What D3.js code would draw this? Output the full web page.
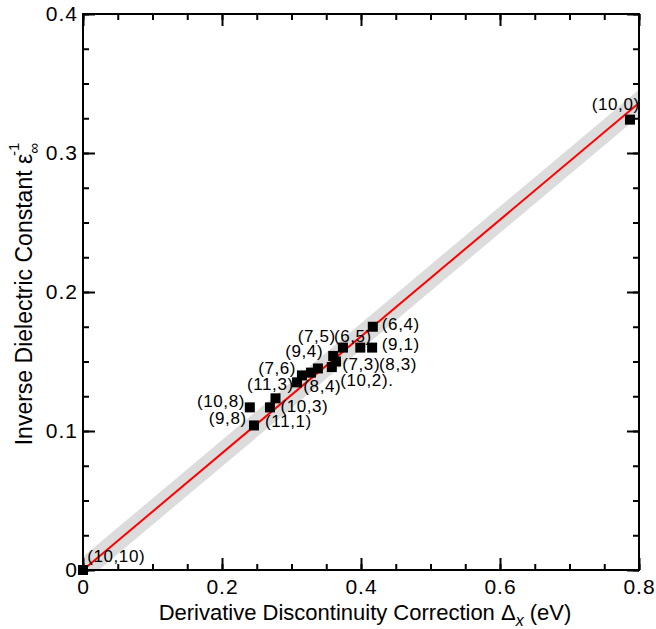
<!DOCTYPE html>
<html>
  <head>
    <meta charset="utf-8">
    <script src="https://d3js.org/d3.v7.min.js"></script>
    <style>
    body {
      margin: 0;
      background-color: #fff;
    }
    text {
      font-family: "Liberation Sans", Arial, sans-serif;
      fill: #000;
    }
    .tick text {
      font-size: 21px;
      letter-spacing: 1px;
    }
    .ptlabel {
      font-size: 17px;
      letter-spacing: 0.6px;
    }
    .xlabel {
      font-size: 22px;
    }
    .ylabel {
      font-size: 23px;
    }
    </style>
    <title>Inverse dielectric constant vs derivative discontinuity</title>
  </head>
  <body>
    <div class="chart"></div>
    <script>

      // nanotube chiralities and values
      var chirality = ["(10,0)", "(10,10)", "(6,4)", "(9,1)", "(8,3)", "(6,5)", "(7,5)", "(7,3)", "(10,2).",
                       "(9,4)", "(8,4)", "(7,6)", "(11,3)", "(10,3)", "(11,1)", "(10,8)", "(9,8)"];
      var deltaX = [0.787, 0.0, 0.417, 0.416, 0.399, 0.374, 0.360, 0.364, 0.358,
                    0.338, 0.328, 0.315, 0.308, 0.277, 0.269, 0.240, 0.246];
      var invEps = [0.324, 0.0, 0.175, 0.160, 0.160, 0.160, 0.154, 0.150, 0.146,
                    0.145, 0.142, 0.140, 0.135, 0.1235, 0.117, 0.117, 0.104];

      // where each chirality label sits (data units, left edge / baseline)
      var labelX = [0.732, 0.006, 0.430, 0.430, 0.426, 0.361, 0.309, 0.373, 0.370,
                    0.291, 0.317, 0.252, 0.236, 0.284, 0.262, 0.164, 0.181];
      var labelY = [0.331, 0.006, 0.173, 0.158, 0.144, 0.164, 0.164, 0.144, 0.1325,
                    0.153, 0.128, 0.141, 0.1295, 0.114, 0.103, 0.117, 0.105];

      // linear fit and its uncertainty band
      var fitSlope = 0.42;
      var bandHalf = 0.0095;

      var xTicks = [0, 0.2, 0.4, 0.6, 0.8];
      var xTickLabels = ["0", "0.2", "0.4", "0.6", "0.8"];
      var yTicks = [0, 0.1, 0.2, 0.3, 0.4];
      var yTickLabels = ["0", "0.1", "0.2", "0.3", "0.4"];
      var xMinor = d3.range(0, 0.8001, 0.05);
      var yMinor = d3.range(0, 0.4001, 0.025);

      var margin = {top: 14, right: 17, bottom: 59, left: 83};
      var fullW = 656, fullH = 629;
      var width = fullW - margin.left - margin.right;
      var height = fullH - margin.top - margin.bottom;

      var svg = d3.select('.chart').append('svg')
          .attr('width', fullW)
          .attr('height', fullH)
        .append('g')
          .attr('transform', 'translate(' + margin.left + ',' + margin.top + ')');

      var x = d3.scaleLinear().domain([0, 0.8]).range([0, width]);
      var y = d3.scaleLinear().domain([0, 0.4]).range([height, 0]);

      svg.append('clipPath').attr('id', 'plotclip')
        .append('rect').attr('width', width).attr('height', height);

      // grey band + red fit line
      var xs = x.domain();
      var band = d3.area()
          .x(function(d) { return x(d); })
          .y0(function(d) { return y(fitSlope * d - bandHalf); })
          .y1(function(d) { return y(fitSlope * d + bandHalf); });

      svg.append('path')
          .datum(xs)
          .attr('clip-path', 'url(#plotclip)')
          .attr('fill', '#dcdcdc')
          .attr('d', band);

      svg.append('path')
          .datum(xs)
          .attr('clip-path', 'url(#plotclip)')
          .attr('fill', 'none')
          .attr('stroke', '#ff0000')
          .attr('stroke-width', 2)
          .attr('d', d3.line().x(function(d) { return x(d); }).y(function(d) { return y(fitSlope * d); }));

      // axes: ticks point inward, mirrored on top/right
      function styleAxis(g) {
        g.select('.domain').remove();
        g.selectAll('.tick line').attr('stroke', '#000').attr('stroke-width', 2);
      }

      svg.append('g').attr('transform', 'translate(0,' + height + ')')
          .call(d3.axisBottom(x).tickValues(xMinor).tickSize(-6).tickFormat(''))
          .call(styleAxis);
      svg.append('g').attr('transform', 'translate(0,' + height + ')')
          .call(d3.axisBottom(x).tickValues(xTicks).tickSize(-12).tickPadding(9)
                .tickFormat(function(d, i) { return xTickLabels[i]; }))
          .call(styleAxis)
          .selectAll('text').attr('font-size', null).attr('font-family', null);

      svg.append('g')
          .call(d3.axisTop(x).tickValues(xMinor).tickSize(-6).tickFormat(''))
          .call(styleAxis);
      svg.append('g')
          .call(d3.axisTop(x).tickValues(xTicks).tickSize(-12).tickFormat(''))
          .call(styleAxis);

      svg.append('g')
          .call(d3.axisLeft(y).tickValues(yMinor).tickSize(-6).tickFormat(''))
          .call(styleAxis);
      svg.append('g')
          .call(d3.axisLeft(y).tickValues(yTicks).tickSize(-12).tickPadding(5)
                .tickFormat(function(d, i) { return yTickLabels[i]; }))
          .call(styleAxis)
          .selectAll('text').attr('font-size', null).attr('font-family', null);

      svg.append('g').attr('transform', 'translate(' + width + ',0)')
          .call(d3.axisRight(y).tickValues(yMinor).tickSize(-6).tickFormat(''))
          .call(styleAxis);
      svg.append('g').attr('transform', 'translate(' + width + ',0)')
          .call(d3.axisRight(y).tickValues(yTicks).tickSize(-12).tickFormat(''))
          .call(styleAxis);

      svg.append('rect')
          .attr('width', width)
          .attr('height', height)
          .attr('fill', 'none')
          .attr('stroke', '#000')
          .attr('stroke-width', 2);

      // data squares
      var sq = 10;
      svg.append('g').selectAll('rect')
          .data(chirality)
          .enter().append('rect')
          .attr('x', function(d, i) { return x(deltaX[i]) - sq / 2; })
          .attr('y', function(d, i) { return y(invEps[i]) - sq / 2; })
          .attr('width', sq)
          .attr('height', sq)
          .attr('fill', '#000');

      svg.append('g').selectAll('text')
          .data(chirality)
          .enter().append('text')
          .attr('class', 'ptlabel')
          .attr('x', function(d, i) { return x(labelX[i]); })
          .attr('y', function(d, i) { return y(labelY[i]); })
          .text(function(d) { return d; });

      // axis titles
      var xl = svg.append('text')
          .attr('class', 'xlabel')
          .attr('x', width / 2 + 4)
          .attr('y', height + 50)
          .attr('text-anchor', 'middle');
      xl.append('tspan').text('Derivative Discontinuity Correction \u0394');
      xl.append('tspan').attr('dy', 6).attr('font-size', 16).attr('font-style', 'italic').text('x');
      xl.append('tspan').attr('dy', -6).text(' (eV)');

      var yl = svg.append('text')
          .attr('class', 'ylabel')
          .attr('transform', 'translate(' + (-51) + ',' + (height / 2 + 2) + ') rotate(-90)')
          .attr('text-anchor', 'middle');
      yl.append('tspan').text('Inverse Dielectric Constant \u03b5');
      yl.append('tspan').attr('dy', 7).attr('font-size', 15).text('\u221e');
      yl.append('tspan').attr('dy', -20).attr('dx', -13).attr('font-size', 15).text('-1');

    </script>
  </body>
</html>
